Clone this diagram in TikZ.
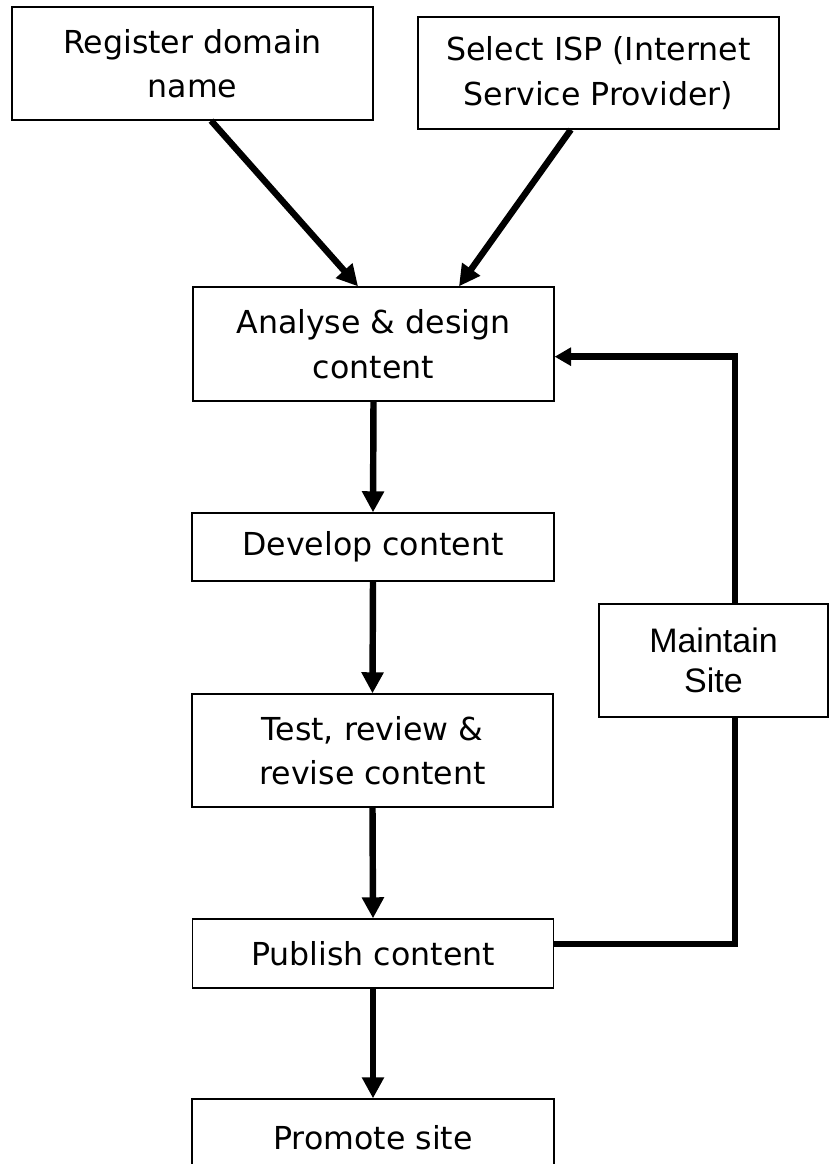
\documentclass[tikz,border=0pt]{standalone}
\usepackage{fontspec}
\setmainfont{DejaVu Sans}
\newfontfamily\arialfont{Liberation Sans}
\usetikzlibrary{arrows.meta}

\tikzset{
  stepbox/.style={draw,line width=1.1pt,fill=white,align=center,inner sep=0pt,
    font=\fontsize{27}{38}\selectfont},
  flow/.style={line width=5.5pt,-{Triangle[width=18pt,length=18pt]}},
}

\begin{document}
\begin{tikzpicture}[x=0.03cm,y=-0.03cm]
  \clip (0,0) rectangle (829,1164);

  % Setup
  \node[stepbox,minimum width=10.83cm,minimum height=3.39cm] (reg) at (192.5,63.5) {Register domain\\name};
  \node[stepbox,minimum width=10.83cm,minimum height=3.36cm] (isp) at (598.5,73) {Select ISP (Internet\\Service Provider)};

  % Content cycle
  \node[stepbox,minimum width=10.83cm,minimum height=3.42cm] (analyse) at (373.5,344) {Analyse \& design\\content};
  \node[stepbox,minimum width=10.86cm,minimum height=2.04cm] (develop) at (373,547) {Develop content};
  \node[stepbox,minimum width=10.83cm,minimum height=3.39cm] (test) at (372.5,750.5) {Test, review \&\\revise content};
  \node[stepbox,minimum width=10.83cm,minimum height=2.07cm] (publish) at (373,953.5) {Publish content};
  \node[stepbox,minimum width=10.86cm,minimum height=2.34cm] (promote) at (373,1138) {Promote site};
  \node[stepbox,minimum width=6.87cm,minimum height=3.39cm,font=\arialfont\fontsize{29}{34}\selectfont] (maintain) at (713.5,660.5) {Maintain\\Site};
  \coordinate (turn) at (735,356);

  % Arrows
  \draw[flow] (reg.-72) -- (analyse.105);
  \draw[flow] (isp.-116) -- (analyse.34);
  \draw[flow] (analyse.south) -- (develop.north);
  \draw[flow] (develop.south) -- (test.north);
  \draw[flow] (test.south) -- (publish.north);
  \draw[flow] (publish.south) -- (promote.north);

  % Maintenance loop
  \draw[line width=5.5pt] (publish.3) -| (maintain.south -| turn);
  \draw[flow,-{Triangle[width=15pt,length=14pt]}] (maintain.north -| turn) |- (analyse.-4);
\end{tikzpicture}
\end{document}
